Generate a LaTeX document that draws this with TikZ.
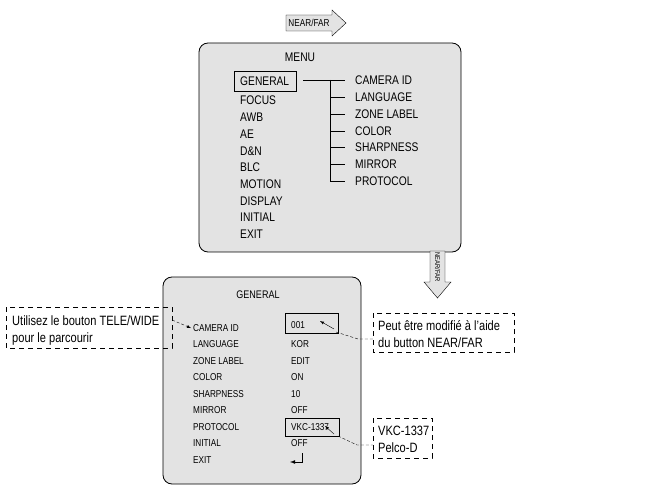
\documentclass[tikz,border=0pt]{standalone}
\usepackage{fontspec}
\setmainfont{Liberation Sans}[FakeStretch=0.82]
\begin{document}
\begin{tikzpicture}[x=1pt,y=-1pt,
  mi/.style={anchor=west,inner sep=0pt,font=\fontsize{12.5}{13}\selectfont},
  bi/.style={anchor=west,inner sep=0pt,font=\fontsize{10}{11}\selectfont},
  ci/.style={anchor=west,inner sep=0pt,font=\fontsize{13.5}{15}\selectfont},
  panel/.style={draw,thick,fill=gray!22,rounded corners=9pt},
  callout/.style={draw,dashed,thick,dash pattern=on 5pt off 4pt},
  lead/.style={densely dashed,thin}]
\useasboundingbox (0,0) rectangle (648,489);
% top arrow
\draw[fill=gray!22] (286,15) -- (332,15) -- (332,10) -- (346,23) -- (332,36) -- (332,31) -- (286,31) -- cycle;
\node[inner sep=0pt,font=\fontsize{10}{11}\selectfont] (nf) at (309,23) {NEAR/FAR};
% top panel
\draw[panel] (199,43) rectangle (461,252);
\node[inner sep=0pt,font=\fontsize{12.5}{13}\selectfont] (menu) at (300,57) {MENU};
\draw[thick] (234,71) rectangle (296,91);
\node[mi] (g) at (240,81) {GENERAL};
\foreach \t/\y in {FOCUS/100,AWB/117,AE/134,D\&N/151,BLC/167,MOTION/184,DISPLAY/201,INITIAL/217,EXIT/234}
  \node[mi] at (240,\y) {\t};
\draw[thick] (303,80) -- (345,80);
\draw[thick] (330,80) -- (330,182);
\foreach \t/\y in {CAMERA ID/80,LANGUAGE/97,ZONE LABEL/114,COLOR/131,SHARPNESS/147,MIRROR/164,PROTOCOL/181}{
  \draw[thick] (330,\y) -- (345,\y);
  \node[mi] at (355,\y) {\t};}
% down arrow
\draw[fill=gray!22] (430,251) -- (445,251) -- (445,282) -- (451,282) -- (437.5,298) -- (424,282) -- (430,282) -- cycle;
\node[inner sep=0pt,rotate=-90,font=\fontsize{7}{8}\selectfont] (nf2) at (437.5,267) {NEAR/FAR};
% bottom panel
\draw[panel] (163,277) rectangle (361,484);
\node[inner sep=0pt,font=\fontsize{11}{12}\selectfont] (gt) at (258,295) {GENERAL};
\node[bi] (cam) at (193,328) {CAMERA ID};
\foreach \t/\v/\y in {LANGUAGE/KOR/344,ZONE LABEL/EDIT/361,COLOR/ON/377,SHARPNESS/10/394,MIRROR/OFF/410,PROTOCOL/VKC-1337/427,INITIAL/OFF/443,EXIT//460}{
  \node[bi] at (193,\y) {\t};
  \node[bi] at (291,\y) {\v};}
\node[bi] at (291,325) {001};
\draw[thick] (285,313) rectangle (338,333);
\draw[thick] (285,418) rectangle (339,436);
\draw[thick,-{latex}] (302,453) -- (302,462) -- (290,462);
\draw[-{latex}] (334,329) -- (320,321);
\draw[-{latex}] (334,434) -- (325,426);
% callouts
\draw[callout] (6,307) rectangle (172,348);
\node[ci] (u1) at (12,321) {Utilisez le bouton TELE/WIDE};
\node[ci] (u2) at (12,339) {pour le parcourir};
\draw[lead,-{latex}] (172,320) -- (191,328);
\draw[callout] (373,313) rectangle (514,352);
\node[ci] (p1) at (378,326) {Peut être modifié à l'aide};
\node[ci] (p2) at (378,343) {du button NEAR/FAR};
\draw[lead] (336,332) -- (358,339) -- (373,339);
\draw[callout] (373,418) rectangle (432,458);
\node[ci] (v1) at (378,431) {VKC-1337};
\node[ci] (v2) at (378,448) {Pelco-D};
\draw[lead] (338,436) -- (357,445) -- (373,445);
\end{tikzpicture}
\end{document}
